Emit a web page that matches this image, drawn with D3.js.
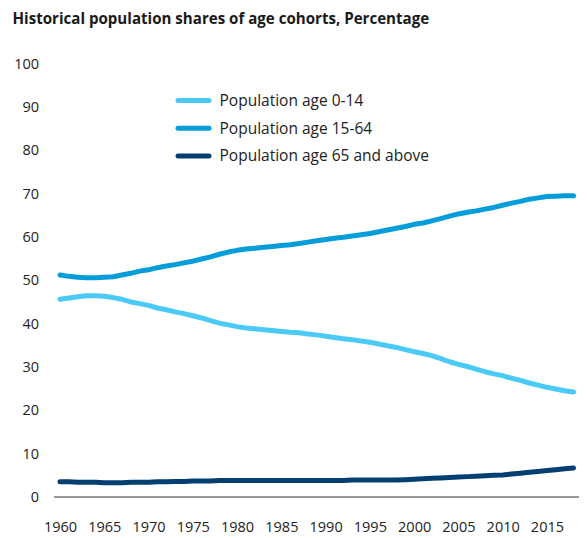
<!DOCTYPE html>
<html>
<head>
<meta charset="utf-8">
<script src="https://cdn.jsdelivr.net/npm/d3@7"></script>
<style>
  html, body { margin: 0; padding: 0; background: #fff; }
  svg { display: block; font-family: "Open Sans", sans-serif; }
</style>
</head>
<body>
<svg id="chart" width="587" height="538"></svg>
<script>
const years = d3.range(1960, 2019);
const seriesNames = ["Population age 0-14", "Population age 15-64", "Population age 65 and above"];
const seriesColors = ["#4ccaf7", "#049dda", "#033f70"];
const age0to14 = [45.6,45.9,46.2,46.4,46.4,46.3,46.0,45.6,45.0,44.6,44.2,43.6,43.2,42.7,42.3,41.8,41.3,40.7,40.1,39.7,39.3,39.0,38.8,38.6,38.4,38.2,38.0,37.9,37.6,37.4,37.1,36.8,36.5,36.3,36.0,35.7,35.3,34.9,34.5,34.0,33.5,33.1,32.6,31.9,31.2,30.6,30.1,29.5,28.9,28.4,28.0,27.4,26.9,26.3,25.8,25.3,24.9,24.5,24.2];
const age15to64 = [51.2,50.9,50.7,50.6,50.6,50.7,50.8,51.2,51.6,52.1,52.4,52.9,53.3,53.6,54.0,54.4,54.9,55.4,56.0,56.5,56.9,57.2,57.4,57.6,57.8,58.0,58.2,58.5,58.8,59.1,59.4,59.7,59.9,60.2,60.5,60.8,61.2,61.6,62.0,62.4,62.9,63.2,63.7,64.2,64.8,65.3,65.7,66.0,66.4,66.8,67.3,67.8,68.2,68.7,69.0,69.3,69.4,69.5,69.5];
const age65plus = [3.5,3.5,3.4,3.4,3.4,3.3,3.3,3.3,3.4,3.4,3.4,3.5,3.5,3.6,3.6,3.7,3.7,3.7,3.8,3.8,3.8,3.8,3.8,3.8,3.8,3.8,3.8,3.8,3.8,3.8,3.8,3.8,3.8,3.9,3.9,3.9,3.9,3.9,3.9,4.0,4.1,4.2,4.3,4.4,4.5,4.6,4.7,4.8,4.9,5.0,5.1,5.3,5.5,5.7,5.9,6.1,6.3,6.5,6.7];
const xTicks = [1960,1965,1970,1975,1980,1985,1990,1995,2000,2005,2010,2015];
const yTicks = [0,10,20,30,40,50,60,70,80,90,100];
const titleText = "Historical population shares of age cohorts, Percentage";

const svg = d3.select("#chart");
const x = d3.scaleLinear().domain([1960, 2018]).range([60, 573.5]);
const y = d3.scaleLinear().domain([0, 100]).range([497, 63.5]);

svg.append("text")
  .attr("x", 12.5).attr("y", 23.5)
  .attr("font-size", 15.1).attr("font-weight", 700).attr("fill", "#1a1a1a")
  .text(titleText);

// y axis labels
const yAxis = d3.axisLeft(y).tickValues(yTicks).tickSize(0).tickPadding(0);
const gy = svg.append("g").attr("transform", "translate(39,0)").call(yAxis);
gy.select(".domain").remove();
gy.selectAll("text").attr("font-size", 14.5).attr("fill", "#222").attr("font-family", "'Open Sans', sans-serif");

// x axis
const xAxis = d3.axisBottom(x).tickValues(xTicks).tickFormat(d3.format("d")).tickSize(0).tickPadding(0);
const gx = svg.append("g").attr("transform", "translate(0,521.5)").call(xAxis);
gx.select(".domain").remove();
gx.selectAll("text").attr("font-size", 14.5).attr("fill", "#222").attr("font-family", "'Open Sans', sans-serif");

// baseline
svg.append("line")
  .attr("x1", 54).attr("x2", 579)
  .attr("y1", y(0)).attr("y2", y(0))
  .attr("stroke", "#333").attr("stroke-width", 1);

const allSeries = [age0to14, age15to64, age65plus];
const line = d3.line().x((d, i) => x(years[i])).y(d => y(d));
allSeries.forEach((vals, k) => {
  svg.append("path")
    .datum(vals)
    .attr("d", line)
    .attr("fill", "none")
    .attr("stroke", seriesColors[k])
    .attr("stroke-width", 5)
    .attr("stroke-linecap", "round")
    .attr("stroke-linejoin", "round");
});

// legend
const legendY = [100.5, 128.3, 156];
seriesNames.forEach((name, k) => {
  svg.append("line")
    .attr("x1", 178).attr("x2", 209)
    .attr("y1", legendY[k]).attr("y2", legendY[k])
    .attr("stroke", seriesColors[k]).attr("stroke-width", 5)
    .attr("stroke-linecap", "round");
  svg.append("text")
    .attr("x", 219.5).attr("y", legendY[k])
    .attr("dy", "0.35em")
    .attr("font-size", 15.5).attr("fill", "#222")
    .text(name);
});
</script>
</body>
</html>
